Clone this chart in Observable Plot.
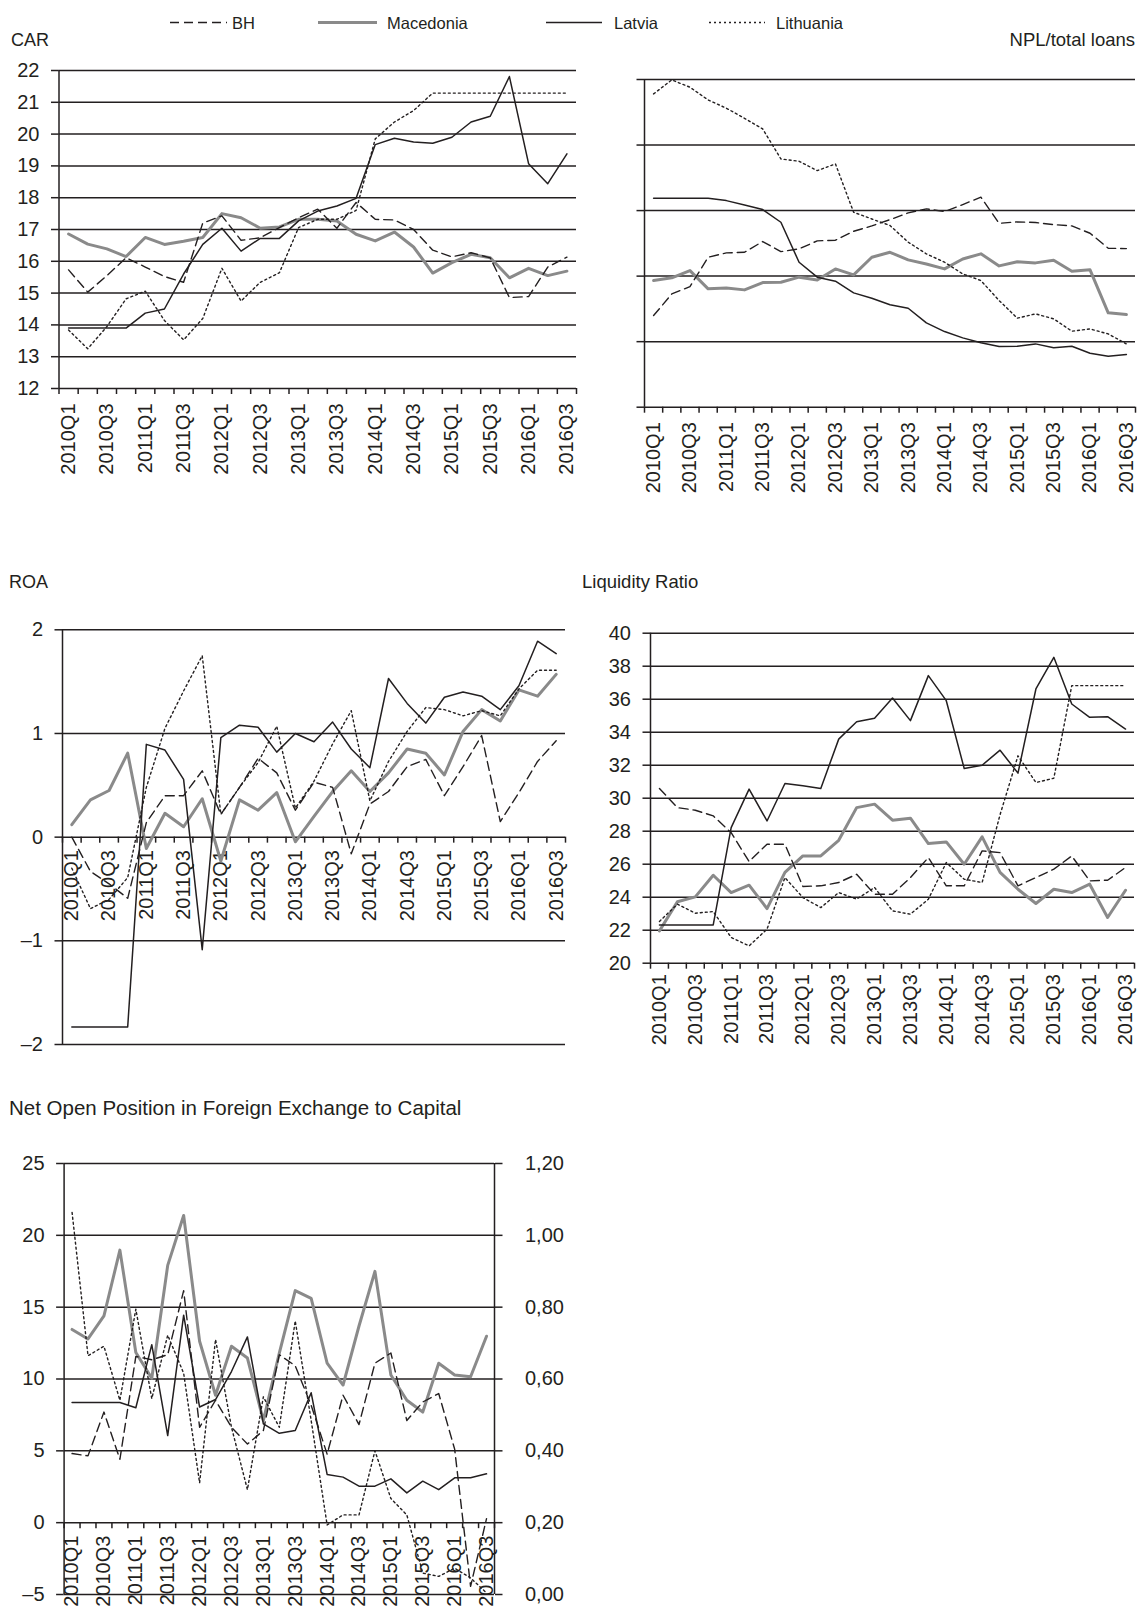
<!DOCTYPE html>
<html><head><meta charset="utf-8">
<script src="https://cdn.jsdelivr.net/npm/d3@7"></script>
<script src="https://cdn.jsdelivr.net/npm/@observablehq/plot@0.6"></script>
<style>
body{margin:0;background:#fff;}
#fig{position:relative;width:1137px;height:1611px;overflow:hidden;background:#fff;}
#fig svg{position:absolute;overflow:visible;}
</style></head><body><div id="fig"></div>
<script>
// ---------- data ----------
const quarters = ["2010Q1","2010Q2","2010Q3","2010Q4","2011Q1","2011Q2","2011Q3","2011Q4","2012Q1","2012Q2","2012Q3","2012Q4","2013Q1","2013Q2","2013Q3","2013Q4","2014Q1","2014Q2","2014Q3","2014Q4","2015Q1","2015Q2","2015Q3","2015Q4","2016Q1","2016Q2","2016Q3"];
const seriesNames = ["BH","Macedonia","Latvia","Lithuania"];

const carBH = [15.73,15.03,15.55,16.11,15.82,15.52,15.34,17.2,17.43,16.66,16.74,17.06,17.37,17.64,17.04,17.85,17.32,17.3,17.0,16.35,16.14,16.27,16.11,14.86,14.89,15.82,16.13];
const carMacedonia = [16.86,16.54,16.39,16.15,16.75,16.53,16.63,16.75,17.5,17.37,17.04,17.08,17.32,17.32,17.27,16.85,16.64,16.92,16.45,15.63,15.96,16.22,16.11,15.48,15.78,15.55,15.69];
const carLatvia = [13.9,13.9,13.9,13.9,14.37,14.5,15.6,16.53,17.04,16.32,16.72,16.72,17.27,17.58,17.74,17.98,19.67,19.87,19.75,19.71,19.9,20.38,20.56,21.81,19.07,18.44,19.38];
const carLithuania = [13.84,13.25,13.95,14.82,15.06,14.14,13.53,14.2,15.78,14.75,15.34,15.64,17.06,17.32,17.32,17.6,19.85,20.38,20.74,21.29,21.29,21.29,21.29,21.29,21.29,21.29,21.29];
const carTicks = [12,13,14,15,16,17,18,19,20,21,22];

const nplBH = [6.99,8.64,9.2,11.44,11.77,11.82,12.64,11.87,12.08,12.69,12.74,13.42,13.83,14.31,14.82,15.13,14.92,15.46,16.02,14.03,14.14,14.09,13.93,13.83,13.27,12.13,12.1];
const nplMacedonia = [9.66,9.87,10.42,9.03,9.1,8.95,9.51,9.53,9.92,9.71,10.55,10.09,11.44,11.82,11.24,10.93,10.55,11.31,11.7,10.78,11.09,11.01,11.21,10.37,10.48,7.2,7.07];
const nplLatvia = [15.94,15.94,15.94,15.94,15.76,15.43,15.08,14.11,11.06,9.92,9.61,8.72,8.31,7.81,7.55,6.43,5.77,5.29,4.91,4.63,4.65,4.83,4.53,4.65,4.12,3.89,4.02];
const nplLithuania = [23.9,24.97,24.41,23.44,22.81,22.04,21.23,18.94,18.76,18.05,18.56,14.87,14.36,13.86,12.59,11.7,11.06,10.17,9.66,8.14,6.79,7.12,6.74,5.8,5.97,5.59,4.83];
const nplTicks = [0,5,10,15,20,25];

const roaBH = [0.0,-0.33,-0.45,-0.59,0.14,0.4,0.4,0.64,0.22,0.48,0.76,0.62,0.26,0.53,0.48,-0.16,0.32,0.44,0.68,0.75,0.4,0.68,0.98,0.15,0.43,0.73,0.93];
const roaMacedonia = [0.12,0.36,0.45,0.81,-0.11,0.23,0.1,0.37,-0.23,0.36,0.26,0.43,-0.045,0.2,0.44,0.64,0.44,0.62,0.85,0.81,0.6,1.02,1.23,1.12,1.42,1.36,1.57];
const roaLatvia = [-1.83,-1.83,-1.83,-1.83,0.895,0.84,0.557,-1.085,0.96,1.08,1.06,0.82,1.0,0.92,1.11,0.85,0.67,1.53,1.29,1.1,1.35,1.4,1.36,1.23,1.46,1.89,1.77];
const roaLithuania = [-0.3,-0.69,-0.6,-0.39,0.48,1.05,1.41,1.75,0.22,0.48,0.72,1.07,0.28,0.54,0.9,1.22,0.35,0.73,1.02,1.25,1.23,1.17,1.22,1.17,1.43,1.61,1.61];
const roaTicks = [-2,-1,0,1,2];

const liqBH = [30.59,29.43,29.27,28.93,27.91,26.16,27.21,27.21,24.65,24.69,24.89,25.39,24.18,24.18,25.19,26.4,24.69,24.69,26.81,26.7,24.69,25.19,25.7,26.5,24.99,25.03,25.8];
const liqMacedonia = [21.96,23.72,24.02,25.33,24.28,24.73,23.31,25.5,26.5,26.5,27.45,29.43,29.64,28.67,28.79,27.25,27.35,26.0,27.66,25.5,24.48,23.62,24.48,24.28,24.79,22.77,24.42];
const liqLatvia = [22.32,22.32,22.32,22.32,28.22,30.55,28.62,30.89,30.75,30.59,33.58,34.63,34.84,36.07,34.7,37.43,35.91,31.8,32.0,32.91,31.52,36.62,38.54,35.71,34.9,34.94,34.19];
const liqLithuania = [22.53,23.58,23.03,23.13,21.56,21.05,22.06,25.19,23.98,23.37,24.28,23.88,24.59,23.17,22.97,23.88,26.1,25.09,24.89,29.0,32.57,30.95,31.21,36.82,36.82,36.82,36.82];
const liqTicks = [20,22,24,26,28,30,32,34,36,38,40];

const nopBH = [4.81,4.65,7.7,4.41,11.57,11.34,11.69,16.15,6.64,8.52,6.64,5.47,6.41,11.69,10.92,8.17,4.77,8.87,6.83,11.1,11.81,7.11,8.4,8.99,5.12,-4.43,0.28];
const nopMacedonia = [13.45,12.79,14.39,18.97,11.85,10.05,17.91,21.38,12.63,8.87,12.28,11.46,7.11,11.8,16.15,15.61,11.1,9.58,13.69,17.49,10.28,8.52,7.7,11.1,10.28,10.16,12.98];
const nopLatvia = [8.36,8.36,8.36,8.36,8.0,12.39,6.06,14.44,8.05,8.57,10.52,12.93,6.88,6.22,6.41,9.04,3.36,3.17,2.54,2.54,3.05,2.07,2.89,2.3,3.12,3.12,3.4];
const nopLithuania = [21.6,11.62,12.28,8.52,14.86,8.64,13.05,10.4,2.77,12.75,6.64,2.3,8.76,6.64,14.04,7.11,-0.16,0.54,0.54,5.0,1.68,0.54,-3.51,-3.74,-3.17,-3.85,-4.89];
const nopTicks = [-5,0,5,10,15,20,25];
const nopRightLabels = ["0,00","0,20","0,40","0,60","0,80","1,00","1,20"];

// ---------- styling ----------
const ink = "#231f20";
const font = "'Liberation Sans', Arial, Helvetica, sans-serif";
const styles = {
  Macedonia: {stroke: "#8a8a8a", strokeWidth: 3},
  BH: {stroke: ink, strokeWidth: 1.4, strokeDasharray: "9,5"},
  Latvia: {stroke: ink, strokeWidth: 1.5},
  Lithuania: {stroke: ink, strokeWidth: 1.4, strokeDasharray: "2,3"}
};
const drawOrder = ["Macedonia","BH","Latvia","Lithuania"];
const fig = document.getElementById("fig");

function panel(cfg) {
  const n = quarters.length;
  const bounds = d3.range(n + 1);
  const labelIdx = d3.range(0, n, 2);
  const base = cfg.base;
  const marks = [
    Plot.ruleY(cfg.ticks, {stroke: ink, strokeWidth: 1.5}),
    Plot.ruleX([0], {stroke: ink, strokeWidth: 1.5}),
    Plot.axisY({ticks: cfg.ticks, tickSize: 7.5, tickPadding: 12, label: null, color: ink, strokeWidth: 1.5,
      tickFormat: cfg.showY === false ? () => "" : d => d < 0 ? "\u2013" + Math.abs(d) : String(d)}),
    Plot.ruleX(bounds, {x: d => d, y1: () => base, y2: () => base, insetBottom: -6, stroke: ink, strokeWidth: 1.5}),
    Plot.text(labelIdx, {x: i => i + 0.5, y: () => base, text: i => quarters[i], rotate: -90,
      textAnchor: "end", dy: cfg.gap, fill: ink})
  ];
  if (cfg.rightLabels) {
    marks.push(Plot.ruleX([n], {stroke: ink, strokeWidth: 1.5}));
    marks.push(Plot.axisY({anchor: "right", ticks: cfg.ticks, tickSize: 7.5, tickPadding: cfg.rightPad, label: null, color: ink, strokeWidth: 1.5,
      tickFormat: d => cfg.rightLabels[cfg.ticks.indexOf(d)]}));
  }
  for (const name of drawOrder) {
    const rows = cfg.data[name].map((v, i) => ({x: i + 0.5, v}));
    marks.push(Plot.line(rows, {x: "x", y: "v", ...styles[name]}));
  }
  const svg = Plot.plot({
    width: cfg.width, height: cfg.height,
    marginLeft: cfg.ml, marginRight: cfg.mr, marginTop: cfg.mt, marginBottom: cfg.mb,
    style: {fontFamily: font, fontSize: "20px", color: ink, background: "transparent", overflow: "visible"},
    x: {domain: [0, n], axis: null},
    y: {domain: cfg.domain, axis: null, label: null},
    marks
  });
  svg.style.left = cfg.left + "px";
  svg.style.top = cfg.top + "px";
  fig.appendChild(svg);
}

// CAR
panel({data: {BH: carBH, Macedonia: carMacedonia, Latvia: carLatvia, Lithuania: carLithuania},
  ticks: carTicks, domain: [12, 22], base: 12, gap: 15,
  left: 0, top: 40, width: 590, height: 450, ml: 58.5, mr: 14, mt: 30, mb: 102});
// NPL
panel({data: {BH: nplBH, Macedonia: nplMacedonia, Latvia: nplLatvia, Lithuania: nplLithuania},
  ticks: nplTicks, domain: [0, 25], base: 0, gap: 15, showY: false,
  left: 590, top: 40, width: 547, height: 450, ml: 54, mr: 2, mt: 39, mb: 83.3});
// ROA
panel({data: {BH: roaBH, Macedonia: roaMacedonia, Latvia: roaLatvia, Lithuania: roaLithuania},
  ticks: roaTicks, domain: [-2, 2], base: 0, gap: 13,
  left: 0, top: 560, width: 590, height: 500, ml: 62, mr: 25, mt: 69.3, mb: 16});
// Liquidity
panel({data: {BH: liqBH, Macedonia: liqMacedonia, Latvia: liqLatvia, Lithuania: liqLithuania},
  ticks: liqTicks, domain: [20, 40], base: 20, gap: 11,
  left: 570, top: 560, width: 567, height: 500, ml: 80, mr: 3, mt: 72.7, mb: 97.3});
// Net open position
panel({data: {BH: nopBH, Macedonia: nopMacedonia, Latvia: nopLatvia, Lithuania: nopLithuania},
  ticks: nopTicks, domain: [-5, 25], base: 0, gap: 13, rightLabels: nopRightLabels, rightPad: 23,
  left: 0, top: 1090, width: 590, height: 521, ml: 63.6, mr: 96, mt: 73, mb: 17});

// ---------- titles and legend ----------
const over = d3.select(fig).append("svg")
  .attr("width", 1137).attr("height", 1611)
  .style("left", "0px").style("top", "0px")
  .style("font-family", font).style("fill", ink);
const titles = [
  {t: "CAR", x: 11, y: 46, a: "start", s: 18},
  {t: "NPL/total loans", x: 1135, y: 46, a: "end", s: 18.5},
  {t: "ROA", x: 9, y: 588, a: "start", s: 18},
  {t: "Liquidity Ratio", x: 582, y: 588, a: "start", s: 18.5},
  {t: "Net Open Position in Foreign Exchange to Capital", x: 9, y: 1115, a: "start", s: 20.5}
];
over.selectAll("text.title").data(titles).join("text").attr("class", "title")
  .attr("x", d => d.x).attr("y", d => d.y).attr("text-anchor", d => d.a)
  .style("font-size", d => d.s + "px").text(d => d.t);

const legendPos = {BH: [170, 227, 232], Macedonia: [318, 377, 387], Latvia: [546, 602, 614], Lithuania: [709, 765, 776]};
const lg = over.append("g");
for (const name of seriesNames) {
  const [x1, x2, tx] = legendPos[name];
  const s = styles[name];
  lg.append("line").attr("x1", x1).attr("x2", x2).attr("y1", 22.5).attr("y2", 22.5)
    .attr("stroke", s.stroke).attr("stroke-width", s.strokeWidth)
    .attr("stroke-dasharray", s.strokeDasharray || null);
  lg.append("text").attr("x", tx).attr("y", 28.5).style("font-size", "16.5px").text(name);
}
</script></body></html>
